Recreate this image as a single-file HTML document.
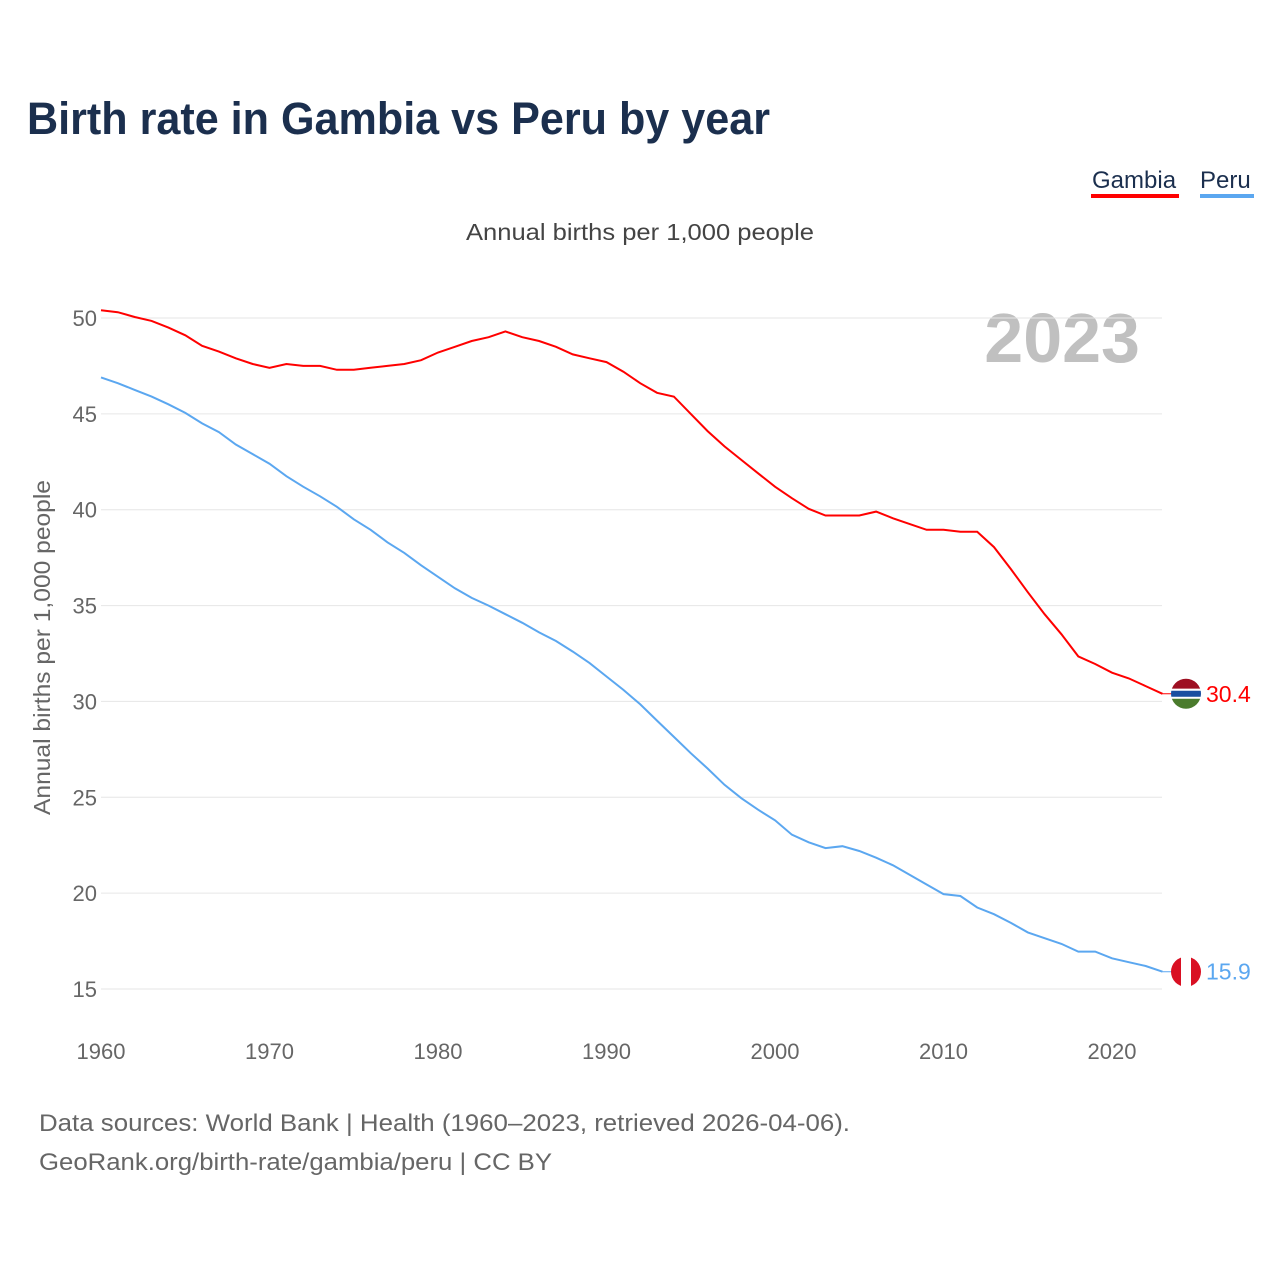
<!DOCTYPE html>
<html><head><meta charset="utf-8"><style>
body{margin:0;width:1280px;height:1280px;background:#fff;font-family:"Liberation Sans",sans-serif;overflow:hidden}
</style></head><body>
<svg id="chart" width="1280" height="1280" xmlns="http://www.w3.org/2000/svg" font-family="Liberation Sans, sans-serif">
<text x="27" y="134" font-size="45" font-weight="bold" fill="#1b2f4e" textLength="743" lengthAdjust="spacingAndGlyphs">Birth rate in Gambia vs Peru by year</text>
<g>
<text x="1092" y="188" font-size="24" fill="#1b2f4e">Gambia</text>
<rect x="1091" y="194" width="88" height="4" fill="#ff0000"/>
<text x="1200" y="188" font-size="24" fill="#1b2f4e">Peru</text>
<rect x="1200" y="194" width="54" height="4" fill="#5ba7f0"/>
</g>
<text x="466" y="240" font-size="23" fill="#444" textLength="348" lengthAdjust="spacingAndGlyphs">Annual births per 1,000 people</text>
<text transform="translate(50,815) rotate(-90)" font-size="23" fill="#666" textLength="335" lengthAdjust="spacingAndGlyphs">Annual births per 1,000 people</text>
<text x="1140" y="362" font-size="70" font-weight="bold" fill="#c0c0c0" text-anchor="end">2023</text>
<g id="grid"></g><g id="series"></g>
<text x="39" y="1131" font-size="24" fill="#666" textLength="811" lengthAdjust="spacingAndGlyphs">Data sources: World Bank | Health (1960–2023, retrieved 2026-04-06).</text>
<text x="39" y="1170" font-size="24" fill="#666" textLength="513" lengthAdjust="spacingAndGlyphs">GeoRank.org/birth-rate/gambia/peru | CC BY</text>
</svg>
<script>
const years=[];for(let y=1960;y<=2023;y++)years.push(y);
const yTicks=[15,20,25,30,35,40,45,50];
const xTicks=[1960,1970,1980,1990,2000,2010,2020];
const gambia=[50.4,50.3,50.05,49.85,49.5,49.1,48.55,48.25,47.9,47.6,47.4,47.6,47.5,47.5,47.3,47.3,47.4,47.5,47.6,47.8,48.2,48.5,48.8,49.0,49.3,49.0,48.8,48.5,48.1,47.9,47.7,47.2,46.6,46.1,45.9,45.0,44.1,43.3,42.6,41.9,41.2,40.6,40.05,39.7,39.7,39.7,39.9,39.55,39.25,38.95,38.95,38.85,38.85,38.05,36.9,35.7,34.55,33.5,32.35,31.95,31.5,31.2,30.8,30.4];
const peru=[46.9,46.6,46.25,45.9,45.5,45.05,44.5,44.05,43.4,42.9,42.4,41.75,41.2,40.7,40.15,39.5,38.95,38.3,37.75,37.1,36.5,35.9,35.4,35.0,34.55,34.1,33.6,33.15,32.6,32.0,31.3,30.6,29.85,29.0,28.15,27.3,26.5,25.65,24.95,24.35,23.8,23.05,22.65,22.35,22.45,22.2,21.85,21.45,20.95,20.45,19.95,19.85,19.25,18.9,18.45,17.95,17.65,17.35,16.95,16.95,16.6,16.4,16.2,15.9];
const NS="http://www.w3.org/2000/svg";
const X=y=>101+(y-1960)*(1112-101)/60;
const Y=v=>318+(50-v)*(989-318)/35;
function mk(t,a,p){const e=document.createElementNS(NS,t);for(const k in a)e.setAttribute(k,a[k]);p.appendChild(e);return e;}
const g=document.getElementById('grid');
yTicks.forEach(v=>{
 const l=mk('line',{x1:101,x2:1162,y1:Y(v),y2:Y(v),stroke:'#e6e6e6','stroke-width':1},g);
 
 
 const t=mk('text',{x:97,y:Y(v)+8,'font-size':22,fill:'#666','text-anchor':'end'},g);t.textContent=v;
 
 
});
xTicks.forEach(v=>{
 const t=mk('text',{x:X(v),y:1059,'font-size':22,fill:'#666','text-anchor':'middle'},g);t.textContent=v;
 
 
});
const s=document.getElementById('series');
function line(d,c,name){
 const p=mk('path',{d:d.map((v,i)=>(i?'L':'M')+X(years[i]).toFixed(1)+','+Y(v).toFixed(1)).join(''),fill:'none',stroke:c,'stroke-width':2},s);
 
 
 const last=d[d.length-1],ly=Y(last);
 mk('line',{x1:X(2023),x2:1176,y1:ly,y2:ly,stroke:c,'stroke-width':1},s);
 const t=mk('text',{x:1206,y:ly+8,'font-size':23,fill:c},s);t.textContent=last.toFixed(1);
 
 
 return ly;
}
const gy=line(gambia,'#ff0000','gambia');
const py=line(peru,'#5ba7f0','peru');
const fg=mk('g',{},s);


mk('clipPath',{id:'cg'},fg);mk('circle',{cx:1186,cy:gy,r:15},fg.lastChild);
const gg=mk('g',{'clip-path':'url(#cg)'},fg);
mk('rect',{x:1170,y:gy-16,width:32,height:11,fill:'#9e1022'},gg);
mk('rect',{x:1170,y:gy-5,width:32,height:10,fill:'#fff'},gg);
mk('rect',{x:1170,y:gy-3,width:32,height:6,fill:'#1a4fa0'},gg);
mk('rect',{x:1170,y:gy+5,width:32,height:11,fill:'#4a7b2c'},gg);
const fp=mk('g',{},s);


mk('clipPath',{id:'cp'},fp);mk('circle',{cx:1186,cy:py,r:15},fp.lastChild);
const pg=mk('g',{'clip-path':'url(#cp)'},fp);
mk('rect',{x:1170,y:py-16,width:11,height:32,fill:'#d91023'},pg);
mk('rect',{x:1181,y:py-16,width:10,height:32,fill:'#fff'},pg);
mk('rect',{x:1191,y:py-16,width:11,height:32,fill:'#d91023'},pg);
</script>
</body></html>
